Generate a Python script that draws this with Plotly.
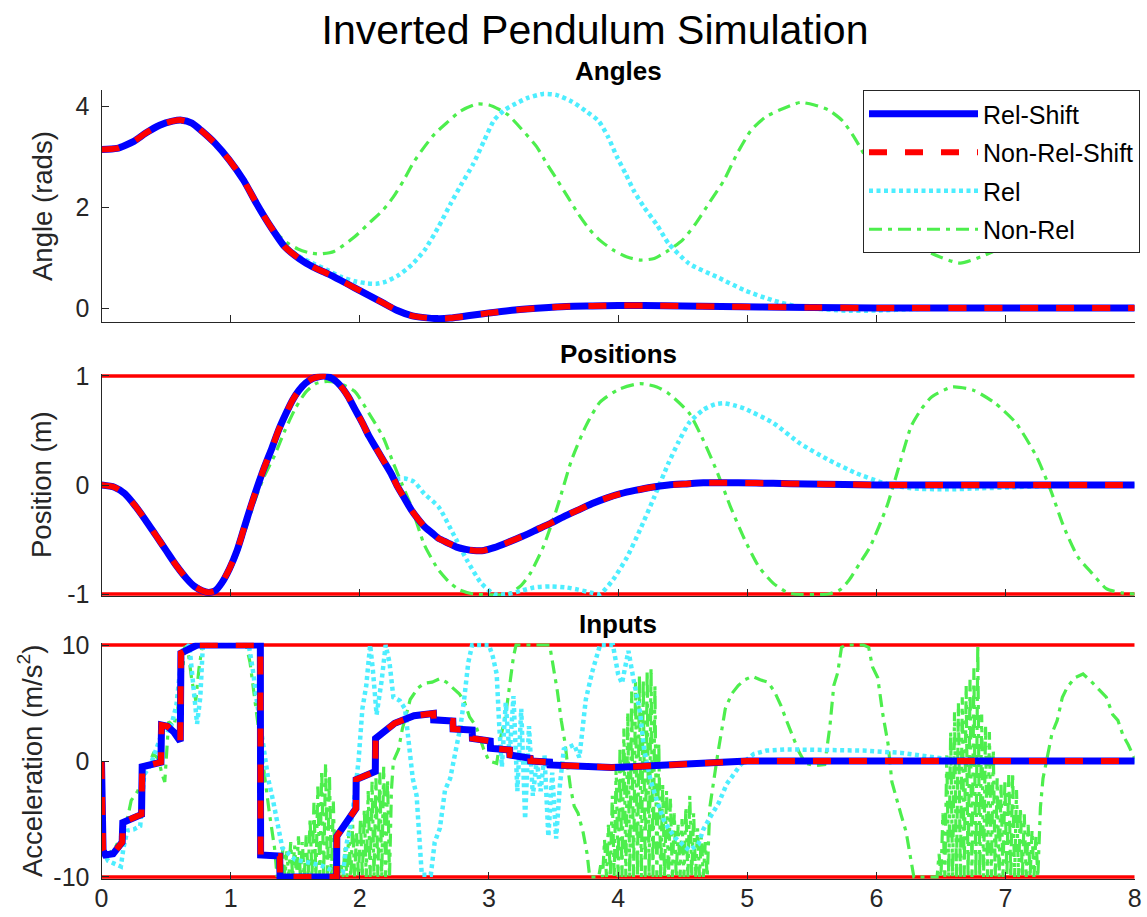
import plotly.graph_objects as go

# ---------------- data ----------------
time_span = [0, 8]
x_ticks = [0, 1, 2, 3, 4, 5, 6, 7, 8]
angle_ticks = [0, 2, 4]
angle_tick_text = ["0", "2", "4"]
pos_ticks = [-1, 0, 1]
pos_tick_text = ["-1", "0", "1"]
inp_ticks = [-10, 0, 10]
inp_tick_text = ["-10", "0", "10"]
pos_bounds = [-1, 1]
inp_bounds = [-10, 10]

# Angles
ang_shift_t = [0, 0.12, 0.25, 0.34, 0.45, 0.55, 0.62, 0.7, 0.77, 0.88, 0.99, 1.1, 1.2, 1.31, 1.42,
               1.53, 1.64, 1.75, 1.85, 1.96, 2.07, 2.18, 2.29, 2.4, 2.5, 2.6, 2.7, 2.85, 3.0, 3.2,
               3.4, 3.6, 3.8, 4.0, 4.2, 4.5, 4.8, 5.1, 5.5, 6.0, 7.0, 8.0]
ang_shift = [3.14, 3.16, 3.3, 3.46, 3.62, 3.70, 3.72, 3.66, 3.52, 3.26, 2.93, 2.53, 2.07, 1.61, 1.21,
             0.98, 0.81, 0.68, 0.55, 0.40, 0.25, 0.10, -0.05, -0.15, -0.19, -0.21, -0.20, -0.15, -0.10, -0.04,
             0.0, 0.03, 0.04, 0.05, 0.05, 0.04, 0.03, 0.02, 0.01, 0.0, 0.0, 0.0]

ang_rel_t = [0, 0.12, 0.25, 0.34, 0.45, 0.55, 0.62, 0.7, 0.77, 0.88, 0.99, 1.1, 1.2, 1.31, 1.42,
             1.53, 1.64, 1.75, 1.85, 1.96, 2.05, 2.13, 2.2, 2.3, 2.4, 2.5, 2.61, 2.7, 2.78, 2.88,
             2.96, 3.04, 3.12, 3.21, 3.3, 3.42, 3.52, 3.64, 3.75, 3.85, 3.92, 3.99, 4.06, 4.12, 4.2,
             4.3, 4.39, 4.55, 4.77, 4.98, 5.2, 5.41, 5.73, 6.0, 6.3, 6.6, 7.0, 8.0]
ang_rel = [3.14, 3.16, 3.3, 3.46, 3.62, 3.70, 3.72, 3.66, 3.52, 3.26, 2.93, 2.53, 2.07, 1.62, 1.24,
           1.02, 0.88, 0.75, 0.62, 0.53, 0.49, 0.48, 0.52, 0.65, 0.85, 1.14, 1.61, 2.05, 2.42, 2.86,
           3.3, 3.72, 3.92, 4.05, 4.16, 4.24, 4.22, 4.09, 3.9, 3.70, 3.4, 3.0, 2.65, 2.33, 2.0,
           1.65, 1.28, 0.88, 0.61, 0.35, 0.15, 0.02, -0.05, -0.05, -0.02, 0.0, 0.0, 0.0]

ang_nonrel_t = [0, 0.12, 0.25, 0.34, 0.45, 0.55, 0.62, 0.7, 0.77, 0.88, 0.99, 1.1, 1.2, 1.31, 1.38,
                1.45, 1.52, 1.6, 1.69, 1.8, 1.96, 2.08, 2.18, 2.26, 2.34, 2.42, 2.5, 2.58, 2.67, 2.78,
                2.91, 3.0, 3.08, 3.15, 3.25, 3.37, 3.45, 3.53, 3.61, 3.69, 3.78, 3.86, 3.96, 4.07, 4.17,
                4.28, 4.39, 4.5, 4.6, 4.71, 4.82, 4.92, 5.03, 5.14, 5.25, 5.41, 5.52, 5.63, 5.74, 5.84,
                6.0, 6.15, 6.27, 6.43, 6.65, 6.87, 7.08, 7.3, 7.5, 7.7, 7.9, 8.0]
ang_nonrel = [3.14, 3.16, 3.3, 3.46, 3.62, 3.70, 3.72, 3.66, 3.52, 3.26, 2.93, 2.53, 2.08, 1.64, 1.42,
              1.27, 1.17, 1.1, 1.07, 1.12, 1.41, 1.7, 1.94, 2.2, 2.53, 2.9, 3.19, 3.45, 3.66, 3.9,
              4.04, 4.02, 3.93, 3.82, 3.55, 3.19, 2.85, 2.53, 2.2, 1.87, 1.55, 1.34, 1.15, 1.01, 0.95,
              0.98, 1.14, 1.35, 1.67, 2.1, 2.53, 3.05, 3.52, 3.78, 3.92, 4.07, 4.02, 3.92, 3.7, 3.33,
              2.6, 1.85, 1.36, 1.08, 0.89, 1.08, 1.36, 2.1, 3.0, 3.6, 3.95, 4.0]

# Positions
pos_shift_t = [0, 0.1, 0.18, 0.26, 0.34, 0.42, 0.5, 0.58, 0.66, 0.72, 0.78, 0.83, 0.88, 0.93, 0.99,
               1.05, 1.1, 1.15, 1.2, 1.26, 1.32, 1.37, 1.43, 1.48, 1.53, 1.58, 1.64, 1.72, 1.79, 1.85,
               1.91, 1.96, 2.02, 2.07, 2.13, 2.18, 2.24, 2.29, 2.35, 2.4, 2.45, 2.5, 2.56, 2.61, 2.68,
               2.75, 2.82, 2.88, 2.96, 3.04, 3.15, 3.26, 3.37, 3.48, 3.58, 3.69, 3.8, 3.91, 4.02, 4.13,
               4.26, 4.39, 4.52, 4.66, 4.8, 4.93, 5.2, 5.47, 5.75, 6.0, 6.5, 7.0, 8.0]
pos_shift = [0, -0.02, -0.08, -0.19, -0.32, -0.46, -0.6, -0.74, -0.86, -0.93, -0.97, -0.985, -0.97, -0.9, -0.77,
             -0.6, -0.41, -0.22, -0.04, 0.16, 0.34, 0.5, 0.66, 0.78, 0.87, 0.935, 0.98, 1.0, 0.975, 0.91,
             0.81, 0.7, 0.57, 0.45, 0.33, 0.23, 0.11, -0.01, -0.13, -0.23, -0.31, -0.38, -0.44, -0.49, -0.53,
             -0.57, -0.59, -0.6, -0.6, -0.575, -0.525, -0.47, -0.41, -0.35, -0.29, -0.23, -0.17, -0.12, -0.08, -0.05,
             -0.02, 0.0, 0.01, 0.02, 0.02, 0.02, 0.015, 0.01, 0.005, 0, 0, 0, 0]

pos_rel_t = [0, 0.1, 0.18, 0.26, 0.34, 0.42, 0.5, 0.58, 0.66, 0.72, 0.78, 0.83, 0.88, 0.93, 0.99,
             1.05, 1.1, 1.15, 1.2, 1.26, 1.32, 1.37, 1.43, 1.48, 1.53, 1.58, 1.64, 1.72, 1.79, 1.85,
             1.91, 1.96, 2.02, 2.07, 2.13, 2.18, 2.24, 2.29, 2.35, 2.42, 2.5, 2.61, 2.72, 2.83, 2.94,
             3.04, 3.15, 3.25, 3.35, 3.48, 3.6, 3.69, 3.8, 3.86, 3.96, 4.07, 4.17, 4.28, 4.39, 4.47,
             4.55, 4.66, 4.75, 4.82, 4.9, 4.98, 5.2, 5.41, 5.63, 5.84, 6.05, 6.27, 6.54, 6.81, 7.08,
             7.5, 8.0]
pos_rel = [0, -0.02, -0.08, -0.19, -0.32, -0.46, -0.6, -0.74, -0.86, -0.93, -0.97, -0.985, -0.97, -0.9, -0.77,
           -0.6, -0.41, -0.22, -0.04, 0.16, 0.34, 0.5, 0.66, 0.78, 0.87, 0.935, 0.98, 1.0, 0.975, 0.91,
           0.81, 0.7, 0.57, 0.45, 0.33, 0.23, 0.12, 0.06, 0.06, 0.03, -0.08, -0.2, -0.44, -0.69, -0.9,
           -1.0, -1.0, -0.97, -0.94, -0.93, -0.94, -0.96, -0.99, -1.0, -0.87, -0.66, -0.41, -0.11, 0.2, 0.4,
           0.57, 0.69, 0.74, 0.75, 0.73, 0.7, 0.57, 0.38, 0.23, 0.11, 0.02, -0.03, -0.04, -0.03, -0.02,
           0, 0]

pos_nonrel_t = [0, 0.1, 0.18, 0.26, 0.34, 0.42, 0.5, 0.58, 0.66, 0.72, 0.78, 0.83, 0.88, 0.93, 0.99,
                1.05, 1.1, 1.15, 1.2, 1.26, 1.34, 1.42, 1.5, 1.58, 1.66, 1.75, 1.85, 1.96, 2.07, 2.18,
                2.26, 2.33, 2.4, 2.5, 2.61, 2.7, 2.77, 2.88, 3.15, 3.25, 3.32, 3.42, 3.53, 3.64, 3.75,
                3.86, 4.01, 4.17, 4.3, 4.39, 4.55, 4.66, 4.77, 4.87, 4.98, 5.09, 5.2, 5.3, 5.36, 5.63,
                5.72, 5.79, 5.87, 5.95, 6.08, 6.16, 6.27, 6.35, 6.43, 6.59, 6.75, 6.92, 7.08, 7.24, 7.35,
                7.45, 7.56, 7.67, 7.78, 7.9, 8.0]
pos_nonrel = [0, -0.02, -0.08, -0.19, -0.32, -0.46, -0.6, -0.74, -0.86, -0.93, -0.97, -0.985, -0.975, -0.92, -0.8,
              -0.64, -0.46, -0.28, -0.1, 0.08, 0.27, 0.5, 0.7, 0.85, 0.93, 0.95, 0.93, 0.86, 0.66, 0.44,
              0.2, 0.0, -0.2, -0.55, -0.78, -0.9, -0.96, -1.0, -1.0, -0.92, -0.81, -0.57, -0.2, 0.23, 0.54,
              0.76, 0.88, 0.93, 0.9, 0.84, 0.66, 0.41, 0.11, -0.2, -0.5, -0.75, -0.9, -0.98, -1.0, -1.0,
              -0.96, -0.87, -0.72, -0.57, -0.2, 0.11, 0.54, 0.7, 0.81, 0.9, 0.87, 0.75, 0.57, 0.26, -0.05,
              -0.38, -0.66, -0.81, -0.95, -0.99, -1.0]

# Inputs: (time, acceleration) samples
inp_shift = [(0, 0), (0.012, -7.7), (0.03, -8.1), (0.09, -8.0), (0.16, -7.0), (0.165, -5.3), (0.31, -4.6),
             (0.315, -0.5), (0.46, -0.1), (0.465, 3.1), (0.51, 3.0), (0.56, 2.5), (0.61, 1.7), (0.615, 9.3),
             (0.74, 10), (1.23, 10), (1.232, -8.1), (1.38, -8.2), (1.382, -10), (1.82, -10), (1.822, -6.5),
             (1.97, -4.1), (1.972, -1.6), (2.12, -0.9), (2.122, 1.95), (2.27, 3.25), (2.42, 3.9), (2.57, 4.1),
             (2.572, 3.55), (2.72, 3.45), (2.722, 2.76), (2.87, 2.67), (2.872, 1.95), (3.01, 1.72),
             (3.012, 1.09), (3.16, 0.95), (3.162, 0.52), (3.32, 0.23), (3.322, 0.0), (3.47, -0.1),
             (3.472, -0.34), (3.63, -0.45), (3.8, -0.5), (3.95, -0.55), (4.1, -0.5), (4.3, -0.38),
             (4.5, -0.22), (4.75, -0.07), (5.0, 0.0), (6.0, 0.0), (8.0, 0.0)]

inp_rel = [(0, 0), (0.012, -7.7), (0.05, -8.6), (0.1, -8.9), (0.15, -9.1), (0.17, -7.5), (0.2, -6.0),
           (0.25, -5.9), (0.3, -5.6), (0.33, -1.2), (0.38, -0.3), (0.43, 1.2), (0.48, 2.8), (0.53, 2.6),
           (0.58, 4.8), (0.61, 8.0), (0.635, 9.6), (0.68, 10), (0.71, 6.5), (0.74, 3.2), (0.765, 5.5),
           (0.785, 10), (1.14, 10), (1.17, 8.0), (1.2, 5.4), (1.24, 2.0), (1.29, -1.5), (1.33, -3.5),
           (1.36, -5.2), (1.4, -7.5), (1.5, -8.5), (1.6, -8.8), (1.7, -9.0), (1.8, -9.5), (1.87, -9.6),
           (1.9, -7.0), (1.93, -5.5), (1.96, -3.0), (1.99, 0.0), (2.02, 4.5), (2.05, 6.5), (2.08, 10),
           (2.1, 8.0), (2.13, 4.0), (2.17, 7.0), (2.2, 10), (2.23, 8.5), (2.26, 5.5), (2.31, 5.2),
           (2.35, 4.5), (2.38, 1.5), (2.41, -1.5), (2.44, -3.0), (2.46, -6.0), (2.48, -9.8), (2.55, -9.8),
           (2.58, -7.0), (2.62, -5.8), (2.66, -2.5), (2.7, -1.5), (2.74, 0.8), (2.78, 3.0), (2.81, 5.5),
           (2.84, 8.5), (2.87, 10), (3.0, 10), (3.03, 9.0), (3.06, 7.5), (3.08, 3.0), (3.1, -0.5),
           (3.13, 5.0), (3.16, 0.5), (3.19, 5.6), (3.22, -2.6), (3.25, 4.5), (3.28, -5.0), (3.31, 3.0),
           (3.34, -3.0), (3.37, 0.0), (3.4, -2.6), (3.43, 0.5), (3.46, -6.5), (3.49, -1.0), (3.52, -6.7),
           (3.55, -2.0), (3.58, 1.0), (3.62, 1.2), (3.66, 1.4), (3.7, 0.3), (3.75, 5.3), (3.8, 7.7),
           (3.86, 10), (3.96, 10), (4.0, 7.5), (4.03, 6.7), (4.08, 9.5), (4.12, 7.0), (4.17, 4.2),
           (4.2, 1.1), (4.25, -1.6), (4.3, -3.4), (4.36, -5.3), (4.44, -6.6), (4.55, -7.7), (4.62, -7.2),
           (4.66, -5.9), (4.7, -5.1), (4.78, -3.6), (4.84, -2.0), (4.9, -1.0), (4.95, -0.3), (5.05, 0.6),
           (5.15, 0.9), (5.3, 1.0), (5.5, 0.95), (5.9, 0.9), (6.19, 0.7), (6.45, 0.35), (6.6, 0.1),
           (6.8, 0.02), (8.0, 0.0)]

inp_nonrel_a = [(0, 0), (0.012, -7.7), (0.05, -8.0), (0.1, -7.6), (0.15, -6.5), (0.2, -5.0), (0.23, -3.4),
                (0.28, -2.6), (0.33, -1.2), (0.36, -0.5), (0.4, 0.6), (0.44, 0.2), (0.47, -1.2), (0.49, -1.8),
                (0.52, 3.4), (0.56, 3.0), (0.59, 4.5), (0.62, 6.8), (0.645, 9.9), (0.67, 9.5), (0.7, 6.9),
                (0.73, 5.2), (0.755, 8.0), (0.78, 9.9), (0.8, 10), (1.12, 10), (1.15, 8.5), (1.19, 5.0),
                (1.23, 1.5), (1.27, -1.5), (1.3, -4.5), (1.34, -7.5)]
inp_nonrel_chatter1 = [
    (1.360, -10), (1.375, -8.0), (1.390, -10), (1.405, -7.4), (1.420, -10), (1.435, -7.8), (1.450, -10),
    (1.465, -7.0), (1.480, -10), (1.495, -7.3), (1.510, -10), (1.525, -6.5), (1.540, -10), (1.555, -7.0),
    (1.570, -10), (1.585, -6.4), (1.600, -10), (1.615, -5.0), (1.630, -10), (1.645, -3.6), (1.660, -10),
    (1.675, -2.2), (1.690, -10), (1.705, -0.8), (1.720, -10), (1.735, -0.2), (1.750, -10), (1.765, -1.2),
    (1.780, -10), (1.795, -3.5), (1.810, -10), (1.825, -6.0), (1.840, -10), (1.855, -9.0), (1.870, -10),
    (1.885, -7.5), (1.900, -10), (1.915, -6.0), (1.930, -10), (1.945, -5.5), (1.960, -10), (1.975, -6.2),
    (1.990, -10), (2.005, -5.0), (2.020, -10), (2.035, -4.2), (2.050, -10), (2.065, -2.6), (2.080, -10),
    (2.095, -1.8), (2.110, -10), (2.125, -1.5), (2.140, -10), (2.155, -1.0), (2.170, -10), (2.185, -0.5),
    (2.200, -10), (2.215, -1.6), (2.230, -10), (2.245, -2.5)]
inp_nonrel_b = [(2.26, 0.0), (2.3, 1.0), (2.33, 2.8), (2.36, 4.0), (2.39, 5.3), (2.45, 6.3), (2.5, 6.7),
                (2.56, 6.8), (2.62, 7.1), (2.67, 6.8), (2.72, 6.3), (2.77, 5.8), (2.81, 5.1), (2.85, 3.8),
                (2.9, 3.0), (2.96, 1.0), (3.0, 0.0), (3.06, -0.2), (3.09, 2.0), (3.13, 4.0), (3.16, 6.5),
                (3.19, 9.0), (3.21, 10), (3.47, 10), (3.5, 8.0), (3.53, 6.0), (3.56, 3.5), (3.59, 1.5),
                (3.61, -0.5), (3.63, -2.2), (3.66, -3.9), (3.69, -4.5), (3.73, -6.2), (3.76, -8.0),
                (3.78, -10), (3.835, -10)]
inp_nonrel_chatter2 = [
    (3.850, -10), (3.865, -9.0), (3.880, -10), (3.895, -6.8), (3.910, -10), (3.925, -5.5), (3.940, -10),
    (3.955, -3.0), (3.970, -10), (3.985, -0.5), (4.000, -10), (4.015, 1.2), (4.030, -10), (4.045, 2.8),
    (4.060, -10), (4.075, 4.2), (4.090, -10), (4.105, 6.0), (4.120, -10), (4.135, 6.8), (4.150, -10),
    (4.165, 7.4), (4.180, -10), (4.195, 7.0), (4.210, -10), (4.225, 7.8), (4.240, -10), (4.255, 8.0),
    (4.270, -10), (4.285, 6.5), (4.300, -10), (4.315, 1.5), (4.330, -10), (4.345, -2.0), (4.360, -10),
    (4.375, -2.6), (4.390, -10), (4.405, -3.2), (4.420, -10), (4.435, -4.5), (4.450, -10), (4.465, -5.5),
    (4.480, -10), (4.495, -5.0), (4.510, -10), (4.525, -4.0), (4.540, -10), (4.555, -3.0), (4.570, -10),
    (4.585, -4.5), (4.600, -10), (4.615, -5.8), (4.630, -10), (4.645, -6.5), (4.660, -10), (4.675, -7.0),
    (4.690, -10)]
inp_nonrel_c = [(4.71, -4.0), (4.74, -1.5), (4.77, 0.5), (4.8, 2.5), (4.83, 4.5), (4.88, 5.8), (4.93, 6.5),
                (4.98, 7.0), (5.04, 7.3), (5.1, 7.0), (5.16, 6.8), (5.21, 6.0), (5.26, 4.8), (5.3, 3.6),
                (5.35, 2.2), (5.4, 0.8), (5.45, -0.2), (5.52, -0.4), (5.6, -0.3), (5.64, 3.0), (5.67, 6.5),
                (5.7, 7.6), (5.73, 9.8), (5.77, 10), (5.9, 10), (5.94, 9.8), (5.97, 8.1), (6.01, 7.2),
                (6.05, 4.0), (6.07, 2.9), (6.09, 1.5), (6.12, -1.8), (6.16, -3.5), (6.19, -4.6), (6.23, -6.1),
                (6.26, -8.0), (6.29, -10), (6.455, -10)]
inp_nonrel_chatter3 = [
    (6.470, -10), (6.485, -8.0), (6.500, -10), (6.515, -4.5), (6.530, -10), (6.545, 0.5), (6.560, -10),
    (6.575, 2.5), (6.590, -10), (6.605, 4.2), (6.620, -10), (6.635, 5.0), (6.650, -10), (6.665, 5.5),
    (6.680, -10), (6.695, 6.5), (6.710, -10), (6.725, 7.0), (6.740, -10), (6.755, 8.0), (6.770, -10),
    (6.785, 10), (6.800, -10), (6.815, 4.0), (6.830, -10), (6.845, 3.0), (6.860, -10), (6.875, 2.5),
    (6.890, -10), (6.905, 1.0), (6.920, -10), (6.935, -1.5), (6.950, -10), (6.965, -2.0), (6.980, -10),
    (6.995, -1.6), (7.010, -10), (7.025, -1.2), (7.040, -10), (7.055, -1.0), (7.070, -10), (7.085, -2.5),
    (7.100, -10), (7.115, -4.0), (7.130, -10), (7.145, -4.6), (7.160, -10), (7.175, -5.5), (7.190, -10),
    (7.205, -6.0), (7.220, -10), (7.235, -6.5), (7.250, -10)]
inp_nonrel_d = [(7.27, -4.0), (7.29, -1.5), (7.31, -0.4), (7.36, 2.4), (7.4, 3.5), (7.44, 5.5), (7.48, 6.4),
                (7.54, 7.2), (7.6, 7.5), (7.66, 6.9), (7.72, 6.2), (7.78, 5.5), (7.83, 4.0), (7.87, 3.5),
                (7.91, 2.2), (7.95, 1.4), (8.0, 0.2)]

# ---------------- styling ----------------
W, H = 1147, 917
FONT = "Liberation Sans, Arial, Helvetica, sans-serif"
INK = "#262626"
BLUE, RED, CYAN, GREEN = "#0000ff", "#ff0000", "#4deeff", "#4dee4d"

X0, X1 = 101.5, 1134.7
panels = [  # (xaxis, yaxis, top px, bottom px, yrange)
    ("x", "y", 90.0, 322.0, [-0.277, 4.317]),
    ("x2", "y2", 373.8, 596.2, [-1.02, 1.02]),
    ("x3", "y3", 642.7, 879.3, [-10.2, 10.2]),
]

styles = {
    "Rel-Shift": dict(color=BLUE, width=7, dash="solid"),
    "Non-Rel-Shift": dict(color=RED, width=6, dash="18px,18px"),
    "Rel": dict(color=CYAN, width=4.5, dash="4px,3.5px"),
    "Non-Rel": dict(color=GREEN, width=3.2, dash="13px,6px,4px,6px"),
}
ranks = {"Rel-Shift": 1, "Non-Rel-Shift": 2, "Rel": 3, "Non-Rel": 4}

fig = go.Figure()


def add(xa, ya, t, v, name, shape, show):
    extra = {"smoothing": 0.6} if shape == "spline" else {}
    fig.add_trace(go.Scatter(
        x=t, y=v, mode="lines", name=name, xaxis=xa, yaxis=ya,
        line=dict(shape=shape, **extra, **styles[name]),
        showlegend=show, legendgroup=name, legendrank=ranks[name], hoverinfo="skip"))


def add_bound(xa, ya, level):
    fig.add_trace(go.Scatter(x=time_span, y=[level, level], mode="lines", xaxis=xa, yaxis=ya,
                             line=dict(color=RED, width=3.5), showlegend=False, hoverinfo="skip"))


def unzip(*parts):
    pts = [p for part in parts for p in part]
    return [p[0] for p in pts], [p[1] for p in pts]


# Angles
add("x", "y", ang_nonrel_t, ang_nonrel, "Non-Rel", "spline", True)
add("x", "y", ang_rel_t, ang_rel, "Rel", "spline", True)
add("x", "y", ang_shift_t, ang_shift, "Rel-Shift", "spline", True)
add("x", "y", ang_shift_t, ang_shift, "Non-Rel-Shift", "spline", True)

# Positions
for b in pos_bounds:
    add_bound("x2", "y2", b)
add("x2", "y2", pos_nonrel_t, pos_nonrel, "Non-Rel", "spline", False)
add("x2", "y2", pos_rel_t, pos_rel, "Rel", "spline", False)
add("x2", "y2", pos_shift_t, pos_shift, "Rel-Shift", "spline", False)
add("x2", "y2", pos_shift_t, pos_shift, "Non-Rel-Shift", "spline", False)

# Inputs
for b in inp_bounds:
    add_bound("x3", "y3", b)
t_nr, u_nr = unzip(inp_nonrel_a, inp_nonrel_chatter1, inp_nonrel_b, inp_nonrel_chatter2,
                   inp_nonrel_c, inp_nonrel_chatter3, inp_nonrel_d)
add("x3", "y3", t_nr, u_nr, "Non-Rel", "linear", False)
t_r, u_r = unzip(inp_rel)
add("x3", "y3", t_r, u_r, "Rel", "linear", False)
t_s, u_s = unzip(inp_shift)
add("x3", "y3", t_s, u_s, "Rel-Shift", "linear", False)
add("x3", "y3", t_s, u_s, "Non-Rel-Shift", "linear", False)

tickfont = dict(family=FONT, size=25, color=INK)
axis_common = dict(showgrid=False, zeroline=False, showline=True, linecolor=INK, linewidth=1,
                   ticks="inside", ticklen=7, tickwidth=1, tickcolor=INK, tickfont=tickfont,
                   automargin=False)

layout = dict(
    width=W, height=H, autosize=False,
    margin=dict(l=0, r=0, t=0, b=0, autoexpand=False),
    paper_bgcolor="white", plot_bgcolor="white",
    font=dict(family=FONT, color=INK),
    title=dict(text="Inverted Pendulum Simulation", x=595 / W, y=1 - 30 / H,
               xanchor="center", yanchor="middle", automargin=False,
               font=dict(family=FONT, size=41, color="black")),
    legend=dict(x=1140 / W, xanchor="right", y=1 - 90 / H, yanchor="top",
                bgcolor="white", bordercolor=INK, borderwidth=1,
                font=dict(family=FONT, size=25, color="black"),
                itemwidth=109, traceorder="grouped", tracegroupgap=3),
    showlegend=True,
)
yticks = [(angle_ticks, angle_tick_text), (pos_ticks, pos_tick_text), (inp_ticks, inp_tick_text)]
for i, (xa, ya, top, bot, yr) in enumerate(panels):
    xkey = "xaxis" if xa == "x" else "xaxis" + xa[1:]
    ykey = "yaxis" if ya == "y" else "yaxis" + ya[1:]
    layout[xkey] = dict(axis_common, domain=[X0 / W, X1 / W], range=time_span, tickvals=x_ticks,
                        anchor=ya, showticklabels=(i == 2), ticklabelstandoff=-3)
    layout[ykey] = dict(axis_common, domain=[1 - bot / H, 1 - top / H], range=yr,
                        tickvals=yticks[i][0], ticktext=yticks[i][1],
                        anchor=xa, ticklabelstandoff=6)
fig.update_layout(**layout)

# subplot titles and axis labels
sub_titles = [("Angles", 71), ("Positions", 354), ("Inputs", 624)]
for text, ypx in sub_titles:
    fig.add_annotation(text="<b>%s</b>" % text, x=(X0 + X1) / 2 / W, y=1 - ypx / H, xref="paper", yref="paper",
                       xanchor="center", yanchor="middle", showarrow=False,
                       font=dict(family=FONT, size=26, color="black"))
y_labels = [("Angle (rads)", 42, 206), ("Position (m)", 42, 485), ("Acceleration (m/s<sup>2</sup>)", 30, 761)]
for text, xpx, ypx in y_labels:
    fig.add_annotation(text=text, x=xpx / W, y=1 - ypx / H, xref="paper", yref="paper",
                       xanchor="center", yanchor="middle", textangle=-90, showarrow=False,
                       font=dict(family=FONT, size=27.5, color=INK))

fig.write_html("out.html")
